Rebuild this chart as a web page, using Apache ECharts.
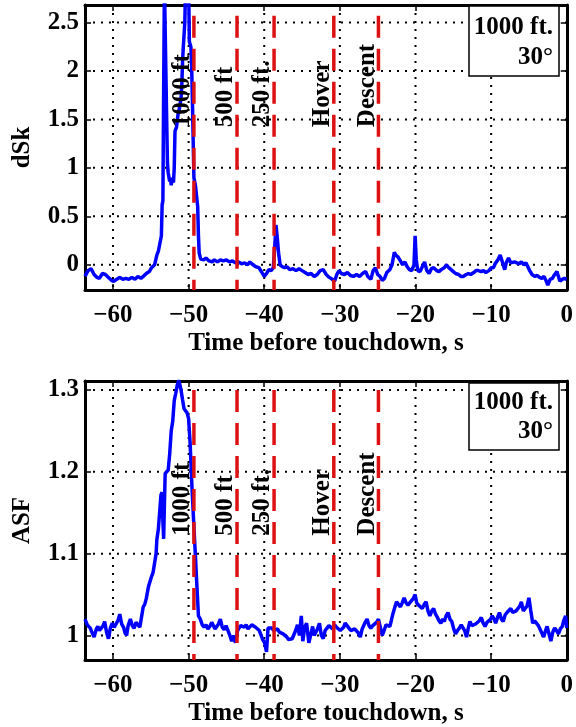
<!DOCTYPE html>
<html><head><meta charset="utf-8">
<script src="https://cdn.jsdelivr.net/npm/echarts@6.0.0/dist/echarts.min.js"></script>
<style>html,body{margin:0;padding:0;background:#fff}#c{width:576px;height:727px}</style>
</head><body><div id="c"></div>
<script>
// ---------- data ----------
const xTicks = [-60, -50, -40, -30, -20, -10, 0];
const dskTicks = [0, 0.5, 1, 1.5, 2, 2.5];
const asfTicks = [1, 1.1, 1.2, 1.3];
const eventTimes = [-49.3, -43.6, -38.7, -30.8, -24.9];
const eventLabels = ['1000 ft', '500 ft', '250 ft.', 'Hover', 'Descent'];
const boxLine1 = '1000 ft.';
const boxLine2 = '30°';
const xTitle = 'Time before touchdown, s';

const dskData = [
[-63.7,-0.12],[-63.3,-0.06],[-62.9,-0.04],[-62.5,-0.1],[-62.1,-0.13],[-61.8,-0.14],[-61.4,-0.09],[-61.0,-0.1],[-60.6,-0.13],[-60.2,-0.16],[-59.9,-0.17],[-59.5,-0.15],[-59.1,-0.13],[-58.7,-0.15],[-58.3,-0.14],[-57.9,-0.15],[-57.5,-0.13],[-57.1,-0.15],[-56.7,-0.12],[-56.3,-0.14],[-56.0,-0.12],[-55.6,-0.09],[-55.2,-0.07],[-54.9,-0.03],[-54.5,0.0],[-54.2,0.1],[-54.0,0.14],[-53.8,0.15],[-53.6,0.3],[-53.5,0.62],[-53.4,0.66],[-53.3,1.8],[-53.2,2.9],[-53.0,2.9],[-52.9,1.5],[-52.8,1.05],[-52.7,0.95],[-52.6,0.93],[-52.5,0.86],[-52.4,0.9],[-52.3,0.82],[-52.2,0.88],[-52.0,0.85],[-51.9,1.0],[-51.8,1.38],[-51.6,1.42],[-51.4,1.55],[-51.2,1.62],[-51.0,1.72],[-50.9,1.85],[-50.8,2.1],[-50.7,2.25],[-50.6,2.24],[-50.5,2.5],[-50.4,2.9],[-50.0,2.9],[-49.9,2.3],[-49.7,2.25],[-49.6,2.05],[-49.5,1.7],[-49.4,1.3],[-49.3,0.9],[-49.1,0.82],[-48.9,0.8],[-48.8,0.6],[-48.7,0.3],[-48.6,0.12],[-48.4,0.06],
[-48.0,0.05],[-47.7,0.07],[-47.3,0.04],[-46.9,0.03],[-46.6,0.05],[-46.2,0.03],[-45.8,0.05],[-45.4,0.04],[-45.0,0.05],[-44.6,0.03],[-44.2,0.04],[-43.8,0.02],[-43.4,0.03],[-43.0,0.01],[-42.6,0.02],[-42.2,0.0],[-41.9,0.03],[-41.5,0.0],[-41.1,-0.02],[-40.7,-0.03],[-40.3,-0.08],[-40.0,-0.12],[-39.7,-0.09],[-39.4,-0.05],[-39.1,-0.06],[-38.8,-0.03],[-38.6,0.2],[-38.45,0.41],[-38.3,0.3],[-38.1,0.12],[-37.9,0.0],[-37.6,-0.02],[-37.3,-0.03],[-37.0,-0.02],[-36.6,-0.05],[-36.2,-0.04],[-35.8,-0.06],[-35.4,-0.04],[-35.0,-0.06],[-34.6,-0.08],[-34.2,-0.1],[-33.8,-0.09],[-33.4,-0.12],[-33.0,-0.1],[-32.6,-0.06],[-32.2,-0.05],[-31.8,-0.1],[-31.4,-0.13],[-31.0,-0.15],[-30.7,-0.17],[-30.4,-0.1],[-30.1,-0.06],[-29.8,-0.09],[-29.4,-0.1],[-29.0,-0.08],[-28.6,-0.11],[-28.2,-0.12],[-27.8,-0.1],[-27.4,-0.12],[-27.0,-0.09],[-26.6,-0.07],[-26.3,-0.12],[-25.9,-0.15],[-25.6,-0.06],[-25.3,-0.03],[-25.0,-0.1],[-24.7,-0.12],[-24.4,-0.16],[-24.1,-0.14],[-23.8,-0.08],[-23.4,-0.05],[-23.1,0.0],[-22.8,0.13],[-22.6,0.1],[-22.3,0.08],[-22.0,0.04],[-21.7,0.0],[-21.4,0.03],[-21.1,-0.02],[-20.8,-0.05],[-20.5,-0.06],[-20.2,0.0],[-20.05,0.3],[-19.9,0.05],[-19.7,-0.06],[-19.4,-0.07],[-19.1,-0.02],[-18.8,0.03],[-18.5,-0.06],[-18.2,-0.09],[-17.9,-0.04],[-17.6,-0.03],[-17.2,-0.06],[-16.9,-0.07],[-16.6,-0.05],[-16.2,-0.03],[-15.9,0.0],[-15.6,-0.03],[-15.3,-0.05],[-15.0,-0.07],[-14.7,-0.09],[-14.3,-0.1],[-14.0,-0.12],[-13.7,-0.12],[-13.3,-0.1],[-13.0,-0.09],[-12.7,-0.1],[-12.3,-0.08],[-12.0,-0.06],[-11.7,-0.06],[-11.3,-0.07],[-11.0,-0.06],[-10.7,-0.08],[-10.3,-0.06],[-10.0,-0.03],[-9.7,-0.03],[-9.4,0.02],[-9.1,0.05],[-8.8,0.1],[-8.6,0.12],[-8.4,0.0],[-8.2,-0.05],[-8.0,0.02],[-7.7,0.07],[-7.4,0.02],[-7.2,0.0],[-6.9,0.03],[-6.6,0.02],[-6.3,0.01],[-6.0,0.03],[-5.7,0.0],[-5.4,0.02],[-5.2,0.03],[-4.9,-0.06],[-4.6,-0.1],[-4.2,-0.12],[-3.9,-0.11],[-3.6,-0.13],[-3.3,-0.14],[-3.0,-0.12],[-2.7,-0.17],[-2.5,-0.21],[-2.2,-0.15],[-1.9,-0.14],[-1.6,-0.1],[-1.3,-0.07],[-1.1,-0.12],[-0.9,-0.17],[-0.6,-0.15],[-0.3,-0.14],[0,-0.15]
];

const asfData = [
[-63.7,1.02],[-63.4,1.013],[-63.0,1.009],[-62.7,1.002],[-62.5,0.998],[-62.2,1.008],[-62.0,1.011],[-61.8,1.006],[-61.55,1.009],[-61.3,1.012],[-61.1,1.017],[-60.85,1.004],[-60.6,0.996],[-60.35,1.009],[-60.1,1.015],[-59.85,1.01],[-59.6,1.009],[-59.35,1.018],[-59.1,1.026],[-58.85,1.014],[-58.6,1.01],[-58.4,1.003],[-58.2,1.0],[-58.0,1.012],[-57.7,1.02],[-57.45,1.012],[-57.2,1.009],[-56.95,1.016],[-56.7,1.015],[-56.45,1.01],[-56.2,1.009],
[-56.0,1.035],[-55.8,1.038],[-55.6,1.045],[-55.3,1.06],[-55.1,1.058],[-54.9,1.072],[-54.7,1.077],[-54.5,1.076],[-54.3,1.1],[-54.2,1.117],[-54.0,1.13],[-53.8,1.128],[-53.65,1.172],[-53.5,1.175],[-53.4,1.14],[-53.3,1.118],[-53.2,1.16],[-53.1,1.198],[-52.9,1.2],[-52.7,1.202],[-52.5,1.222],[-52.3,1.25],[-52.1,1.262],[-51.9,1.287],[-51.7,1.296],[-51.5,1.306],[-51.3,1.312],[-51.15,1.31],[-51.0,1.3],[-50.8,1.288],[-50.6,1.277],[-50.4,1.275],[-50.2,1.272],[-50.0,1.265],[-49.8,1.235],[-49.6,1.19],[-49.35,1.142],[-49.1,1.097],[-48.9,1.06],[-48.7,1.024],[-48.45,1.02],[-48.2,1.013],[-47.95,1.01],[-47.7,1.013],[-47.45,1.008],[-47.2,1.011],[-46.95,1.016],[-46.75,1.015],[-46.5,1.008],[-46.3,1.009],[-46.05,1.014],[-45.8,1.02],[-45.55,1.01],[-45.3,1.007],[-45.05,1.012],[-44.8,1.011],[-44.55,1.0],[-44.3,0.993],[-44.05,1.0],[-43.8,0.991],[-43.55,1.005],[-43.35,1.009],[-43.1,1.012],[-42.9,1.013],[-42.65,1.01],[-42.4,1.013],[-42.15,1.008],[-41.9,1.009],[-41.65,1.013],[-41.4,1.015],[-41.15,1.01],[-40.9,1.009],[-40.65,1.006],[-40.4,1.004],[-40.2,0.995],[-39.95,0.991],[-39.7,0.98],[-39.5,1.009],[-39.25,1.01],[-39.0,1.009],[-38.75,1.006],[-38.5,1.007],[-38.25,1.008],[-38.0,1.004],[-37.75,1.006],[-37.5,1.002],[-37.25,1.0],[-37.0,0.998],[-36.8,0.995],[-36.55,0.993],[-36.3,0.996],[-36.1,0.998],[-35.85,1.006],[-35.6,1.013],[-35.35,1.0],[-35.1,1.024],[-34.9,0.993],[-34.65,1.01],[-34.4,1.015],[-34.1,0.991],[-33.9,0.989],[-33.6,1.011],[-33.4,1.0],[-33.2,1.0],[-32.95,1.008],[-32.7,1.015],[-32.45,1.0],[-32.2,0.996],[-31.95,1.006],[-31.7,1.009],[-31.45,1.012],[-31.2,1.011],[-30.95,1.008],[-30.7,1.013],[-30.45,1.01],[-30.2,1.011],[-29.95,1.006],[-29.75,1.004],[-29.5,1.01],[-29.3,1.015],[-29.05,1.012],[-28.8,1.009],[-28.55,1.006],[-28.3,1.004],[-28.05,1.008],[-27.8,1.009],[-27.55,1.003],[-27.3,0.998],[-27.05,1.008],[-26.8,1.013],[-26.6,1.017],[-26.4,1.02],[-26.15,1.012],[-25.9,1.009],[-25.65,1.012],[-25.4,1.011],[-25.15,1.016],[-24.9,1.02],[-24.65,1.01],[-24.4,1.0],[-24.15,1.006],[-23.9,1.013],[-23.65,1.012],[-23.4,1.011],[-23.2,1.018],[-23.0,1.026],[-22.75,1.034],[-22.5,1.041],[-22.25,1.038],[-22.0,1.035],[-21.75,1.04],[-21.5,1.046],[-21.25,1.04],[-21.0,1.037],[-20.75,1.04],[-20.5,1.039],[-20.3,1.045],[-20.05,1.05],[-19.85,1.04],[-19.6,1.037],[-19.35,1.035],[-19.1,1.033],[-18.85,1.038],[-18.6,1.041],[-18.35,1.03],[-18.1,1.024],[-17.85,1.03],[-17.6,1.033],[-17.35,1.026],[-17.1,1.022],[-16.9,1.018],[-16.65,1.015],[-16.4,1.02],[-16.2,1.017],[-15.95,1.024],[-15.7,1.028],[-15.45,1.02],[-15.2,1.017],[-14.95,1.008],[-14.7,1.002],[-14.45,1.006],[-14.2,1.009],[-13.95,1.013],[-13.7,1.015],[-13.5,1.006],[-13.25,0.998],[-13.0,1.01],[-12.8,1.017],[-12.55,1.012],[-12.3,1.011],[-12.05,1.014],[-11.8,1.015],[-11.55,1.018],[-11.3,1.022],[-11.05,1.015],[-10.8,1.011],[-10.55,1.016],[-10.3,1.017],[-10.05,1.02],[-9.85,1.024],[-9.6,1.02],[-9.4,1.015],[-9.15,1.022],[-8.9,1.028],[-8.65,1.02],[-8.4,1.017],[-8.15,1.025],[-7.9,1.028],[-7.65,1.03],[-7.4,1.033],[-7.15,1.028],[-6.9,1.026],[-6.7,1.03],[-6.45,1.03],[-6.2,1.036],[-6.0,1.041],[-5.75,1.03],[-5.5,1.028],[-5.25,1.036],[-5.0,1.046],[-4.75,1.03],[-4.5,1.015],[-4.25,1.018],[-4.0,1.02],[-3.75,1.012],[-3.5,1.007],[-3.3,1.003],[-3.05,0.998],[-2.8,1.006],[-2.6,1.011],[-2.35,1.002],[-2.1,0.993],[-1.85,1.004],[-1.6,1.009],[-1.35,1.006],[-1.1,1.002],[-0.85,1.008],[-0.6,1.011],[-0.4,1.018],[-0.15,1.024],[0,1.009]
];

// ---------- layout / style ----------
const FONT = 'Liberation Serif';
const FS = 25;
const X_MIN = -63.7, X_MAX = 0;
const TOP_Y = {min: -0.26, max: 2.68, lineTop: 2.57, labelY: 1.42};
const BOT_Y = {min: 0.97, max: 1.311, lineTop: 1.3, labelY: 1.122};
const LABEL_SHIFT = 1.5;

const fmtNum = v => String(+(+v).toFixed(4)).replace('-', '\u2212');
const axisLine = {show: true, onZero: false, lineStyle: {color: '#000', width: 3}};
const tickStyle = {show: true, inside: true, length: 6, lineStyle: {color: '#000', width: 1.5}};
const dotStyle = {color: '#000', width: 2, type: [2, 6]};
const txt = {fontFamily: FONT, fontWeight: 'bold', fontSize: FS, color: '#000'};

function xAxes(g) {
  const t = Object.assign({customValues: xTicks}, tickStyle);
  return [
    {type: 'value', gridIndex: g, position: 'bottom', min: X_MIN, max: X_MAX,
     axisLine, axisTick: t, splitLine: {show: false},
     axisLabel: Object.assign({customValues: xTicks, formatter: fmtNum, margin: 13}, txt),
     name: xTitle, nameLocation: 'middle', nameGap: 41, nameTextStyle: txt},
    {type: 'value', gridIndex: g, position: 'top', min: X_MIN, max: X_MAX,
     axisLine, axisTick: t, splitLine: {show: false}, axisLabel: {show: false}}
  ];
}
function yAxes(g, cfg, ticks, name) {
  const t = Object.assign({customValues: ticks}, tickStyle);
  return [
    {type: 'value', gridIndex: g, position: 'left', min: cfg.min, max: cfg.max,
     axisLine, axisTick: t, splitLine: {show: false},
     axisLabel: Object.assign({customValues: ticks, formatter: fmtNum, margin: 6}, txt),
     name, nameLocation: 'middle', nameGap: 50, nameRotate: 90, nameTextStyle: txt},
    {type: 'value', gridIndex: g, position: 'right', min: cfg.min, max: cfg.max,
     axisLine, axisTick: t, splitLine: {show: false}, axisLabel: {show: false}}
  ];
}

function panelSeries(g, data, cfg, yTicks) {
  const xi = g * 2, yi = g * 2;
  const s = [];
  // dotted grid lines at the tick values
  xTicks.filter(v => v > X_MIN && v < X_MAX).forEach(v => {
    s.push({type: 'line', xAxisIndex: xi, yAxisIndex: yi, symbol: 'none', silent: true, z: 1,
      data: [[v, cfg.max], [v, cfg.min]], lineStyle: dotStyle});
  });
  yTicks.filter(v => v > cfg.min && v < cfg.max).forEach(v => {
    s.push({type: 'line', xAxisIndex: xi, yAxisIndex: yi, symbol: 'none', silent: true, z: 1,
      data: [[X_MIN, v], [X_MAX, v]], lineStyle: dotStyle});
  });
  s.push({
    type: 'line', xAxisIndex: xi, yAxisIndex: yi, data, showSymbol: false, symbol: 'none',
    lineStyle: {color: '#0000ff', width: 3.5}, z: 3, clip: true
  });
  eventTimes.forEach(t => {
    s.push({type: 'line', xAxisIndex: xi, yAxisIndex: yi, symbol: 'none', z: 4,
      data: [[t, cfg.lineTop], [t, cfg.min]],
      lineStyle: {color: '#dd1111', width: 3.5, type: [22, 11]}});
  });
  s.push({type: 'scatter', xAxisIndex: xi, yAxisIndex: yi, symbolSize: 0, z: 5, silent: true,
    itemStyle: {color: '#000', opacity: 1},
    data: eventTimes.map((t, i) => ({value: [t - LABEL_SHIFT, cfg.labelY], name: eventLabels[i]})),
    label: Object.assign({show: true, formatter: p => p.name, position: [0, 0],
      align: 'left', verticalAlign: 'middle', rotate: 90, opacity: 1,
      textBorderWidth: 0}, txt)});
  return s;
}

function box(x, y, w, h, l1y, l2y) {
  const f = 'bold ' + FS + 'px "' + FONT + '"';
  return [
    {type: 'rect', shape: {x, y, width: w, height: h}, style: {fill: '#fff', stroke: '#000', lineWidth: 1.5}, z: 10},
    {type: 'text', x: x + w - 6, y: l1y, style: {text: boxLine1, font: f, fill: '#000', align: 'right', verticalAlign: 'middle'}, z: 11},
    {type: 'text', x: x + w - 6, y: l2y, style: {text: boxLine2, font: f, fill: '#000', align: 'right', verticalAlign: 'middle'}, z: 11}
  ];
}

const chart = echarts.init(document.getElementById('c'), null, {renderer: 'canvas'});
chart.setOption({
  animation: false,
  backgroundColor: '#fff',
  grid: [
    {left: 85, top: 5, width: 484, height: 285},
    {left: 85, top: 381, width: 484, height: 284}
  ],
  xAxis: [...xAxes(0), ...xAxes(1)],
  yAxis: [...yAxes(0, TOP_Y, dskTicks, 'dSk'), ...yAxes(1, BOT_Y, asfTicks, 'ASF')],
  series: [...panelSeries(0, dskData, TOP_Y, dskTicks), ...panelSeries(1, asfData, BOT_Y, asfTicks)],
  graphic: [...box(469, 6, 90, 70, 28, 58), ...box(469, 383, 90, 67, 403, 432)]
});
</script>
</body></html>
